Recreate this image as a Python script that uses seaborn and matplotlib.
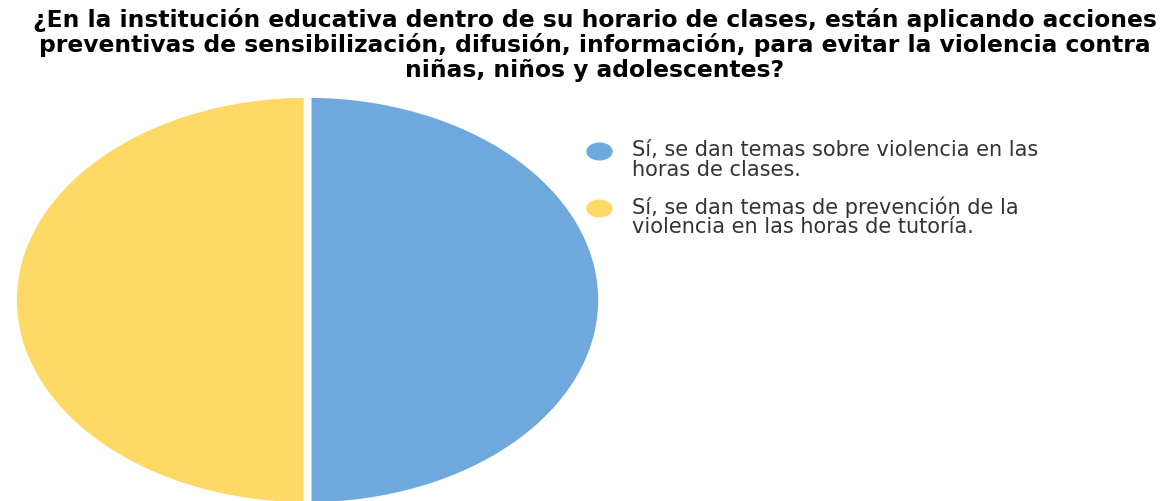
import matplotlib
matplotlib.use("Agg")
import matplotlib.pyplot as plt
import seaborn as sns
from matplotlib.lines import Line2D
from matplotlib.path import Path
from matplotlib.transforms import Affine2D
from matplotlib.legend_handler import HandlerBase

# Data
labels = [
    "Sí, se dan temas sobre violencia en las\nhoras de clases.",
    "Sí, se dan temas de prevención de la\nviolencia en las horas de tutoría.",
]
values = [50, 50]
colors = sns.color_palette(["#6fa8dc", "#ffd966"])

title = ("¿En la institución educativa dentro de su horario de clases, están aplicando acciones\n"
         "preventivas de sensibilización, difusión, información, para evitar la violencia contra\n"
         "niñas, niños y adolescentes?")

sns.set_style("white")
plt.rcParams["font.family"] = ["DejaVu Sans"]

fig = plt.figure(figsize=(11.61, 5.01), dpi=100)
ax = fig.add_axes([13 / 1161, -5 / 501, 589 / 1161, 412 / 501])

ax.pie(values, colors=colors, startangle=90, counterclock=False,
       wedgeprops=dict(edgecolor="white", linewidth=5.5))
ax.set_aspect("auto")
ax.set_xlim(-1.0, 1.0)
ax.set_ylim(-1.0, 1.0)
ax.axis("off")

fig.text(595 / 1161, 0.985, title, ha="center", va="top", fontsize=16.8, fontweight="bold",
         linespacing=1.1, color="#000000")


# legend marker sits on the first line of the label
class FirstLineHandler(HandlerBase):
    def create_artists(self, legend, orig_handle, xdescent, ydescent, width, height, fontsize, trans):
        y = height / 2 - ydescent + 0.45 * fontsize
        m = Line2D([width / 2 - xdescent], [y], transform=trans)
        m.update_from(orig_handle)
        m.set_transform(trans)
        return [m]


oval = Path.unit_circle().transformed(Affine2D().scale(1.5, 1.0))
handles = [Line2D([0], [0], marker=oval, linestyle="", markersize=18,
                  markerfacecolor=c, markeredgecolor=c) for c in colors]
fig.legend(handles, labels, loc="upper left", bbox_to_anchor=(575 / 1161, 1 - 130 / 501),
           frameon=False, handlelength=1.3, handletextpad=0.95,
           labelspacing=0.8, borderpad=0, labelcolor="#333333",
           prop=dict(size=15), handler_map={Line2D: FirstLineHandler()})
for t in fig.legends[0].get_texts():
    t.set_linespacing(0.95)

fig.savefig("out.png", dpi=100)
